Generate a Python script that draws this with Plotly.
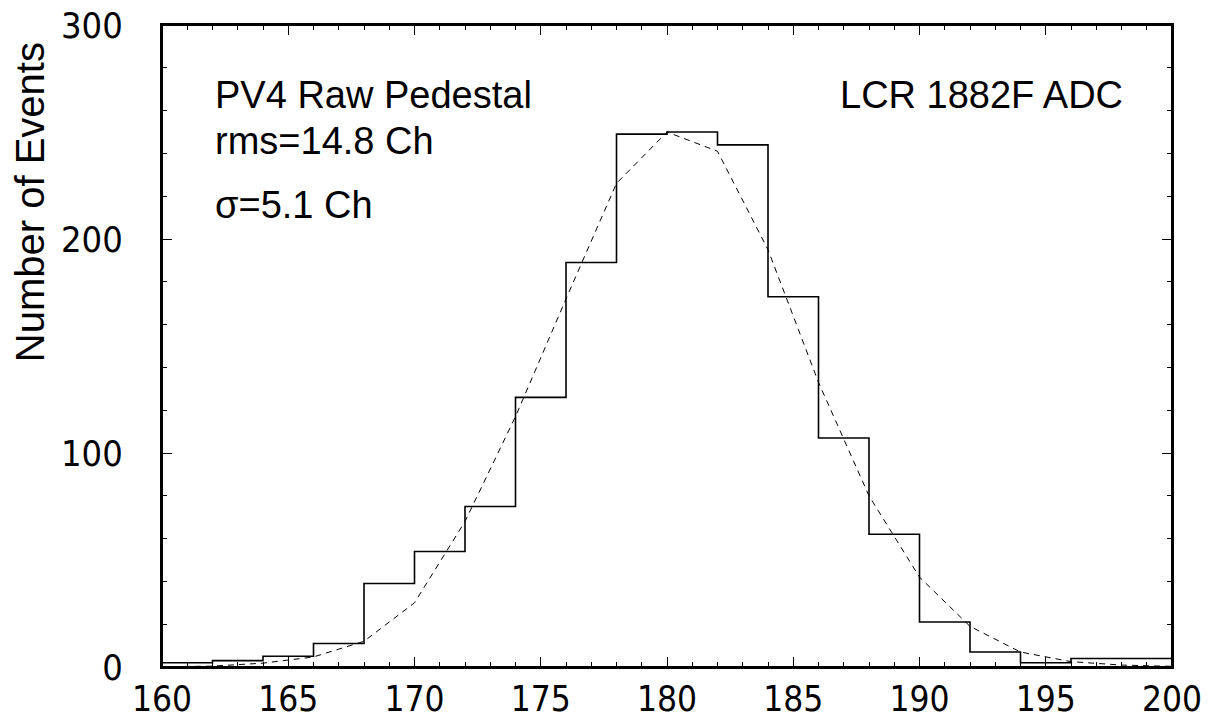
import plotly.graph_objects as go

# Histogram: bin edges (ADC channel) and counts
bin_edges = [160, 162, 164, 166, 168, 170, 172, 174, 176, 178, 180,
             182, 184, 186, 188, 190, 192, 194, 196, 198, 200]
counts = [2, 3, 5, 11, 39, 54, 75, 126, 189, 249, 250,
          244, 173, 107, 62, 21, 7, 2, 4, 4]

# Gaussian fit (dashed), read at even channels
fit_x = [160, 162, 164, 166, 168, 170, 172, 174, 176, 178, 180,
         182, 184, 186, 188, 190, 192, 194, 196, 198, 200]
fit_y = [0.1, 0.4, 1.8, 4.7, 12, 30, 68, 117, 172, 226, 250,
         241, 195, 133, 80, 42, 19, 7, 2.5, 0.9, 0.3]

x_ticks = [160, 165, 170, 175, 180, 185, 190, 195, 200]
y_ticks = [0, 100, 200, 300]

step_x = bin_edges
step_y = counts + [counts[-1]]

fig = go.Figure()
fig.add_trace(go.Scatter(x=step_x, y=step_y, mode="lines", line_shape="hv",
                         line=dict(color="black", width=1.6), showlegend=False))
fig.add_trace(go.Scatter(x=fit_x, y=fit_y, mode="lines",
                         line=dict(color="black", width=1, dash="6px,5px"),
                         showlegend=False))

tickfont_x = dict(family="Liberation Sans Narrow, Arial Narrow, DejaVu Sans Condensed, sans-serif",
                  size=35, color="black")
tickfont_y = dict(family="Liberation Sans Narrow, Arial Narrow, DejaVu Sans Condensed, sans-serif",
                  size=36, color="black")
textfont = dict(family="Liberation Sans, Arial, sans-serif", size=38, color="black")

fig.update_xaxes(range=[160, 200], tickvals=x_ticks, ticktext=[str(v) for v in x_ticks],
                 ticks="inside", ticklen=10, tickwidth=1.2, tickcolor="black",
                 minor=dict(dtick=1, ticks="inside", ticklen=5, tickwidth=1, tickcolor="black"),
                 showline=True, linewidth=2, linecolor="black", mirror="allticks",
                 showgrid=False, zeroline=False, tickfont=tickfont_x, automargin=False)
fig.update_yaxes(range=[0, 300], tickvals=y_ticks, ticktext=[str(v) for v in y_ticks],
                 ticks="inside", ticklen=10, tickwidth=1.2, tickcolor="black",
                 minor=dict(dtick=20, ticks="inside", ticklen=5, tickwidth=1, tickcolor="black"),
                 showline=True, linewidth=2, linecolor="black", mirror="allticks",
                 showgrid=False, zeroline=False, tickfont=tickfont_y, ticklabelstandoff=30,
                 automargin=False)

# explicit frame around the plotting area
fig.add_shape(type="rect", xref="paper", yref="paper", x0=0, x1=1, y0=0, y1=1,
              line=dict(color="black", width=2), layer="above")

annots = [
    dict(x=162.0, y=267.3, text="PV4 Raw Pedestal", xanchor="left"),
    dict(x=162.0, y=245.6, text="rms=14.8 Ch", xanchor="left"),
    dict(x=162.0, y=215.7, text="σ=5.1 Ch", xanchor="left"),
    dict(x=198.15, y=267.3, text="LCR 1882F ADC", xanchor="right"),
]
for a in annots:
    fig.add_annotation(x=a["x"], y=a["y"], xref="x", yref="y", text=a["text"],
                       xanchor=a["xanchor"], yanchor="middle", showarrow=False,
                       font=textfont)

fig.add_annotation(x=-0.1307, y=0.724, xref="paper", yref="paper",
                   text="Number of Events", textangle=-90, showarrow=False,
                   xanchor="center", yanchor="middle",
                   font=dict(family="Liberation Sans, Arial, sans-serif", size=40, color="black"))

fig.update_layout(width=1217, height=719, plot_bgcolor="white", paper_bgcolor="white",
                  margin=dict(l=162, r=45, t=25, b=52))

# remove the default 8px page margin so the figure fills the window exactly
fig.write_html("out.html", config={"displayModeBar": False},
               post_script="document.body.style.margin='0';document.body.style.overflow='hidden';")
